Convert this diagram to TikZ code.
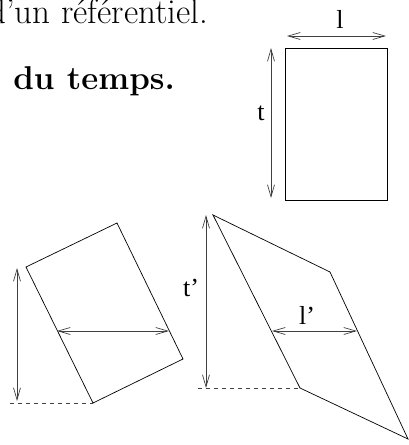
\documentclass[tikz,border=0pt]{standalone}
\usepackage{fontspec}
\newfontfamily\labelfont{Liberation Serif}[Ligatures=TeX]
\usetikzlibrary{arrows.meta}

\begin{document}
\begin{tikzpicture}[x=1pt,y=-1pt,>={Straight Barb[length=12pt,width=7pt]},
 line width=.7pt,
 dim/.style={<->,draw=black!75},
 guide/.style={dash pattern=on 4pt off 4pt,draw=black!75},
 lab/.style={font=\labelfont\fontsize{26}{30}\selectfont,inner sep=0pt,anchor=base},
 txt/.style={font=\fontsize{35}{40}\selectfont,inner sep=0pt,anchor=base west}]
\useasboundingbox (0,0) rectangle (409,445);
\node[txt] (head) at (-12,23) {d'un référentiel.};
\node[txt,font=\fontsize{33}{38}\selectfont\bfseries] (sub) at (13,89) {du temps.};
% frame at rest
\coordinate (r1) at (285,48); \coordinate (r2) at (387,200);
\draw (r1) rectangle (r2);
\coordinate (l1) at (287,36); \coordinate (l2) at (386,36);
\coordinate (t1) at (271,48); \coordinate (t2) at (271,198);
\draw[dim] (l1) -- (l2);
\draw[dim] (t1) -- (t2);
\node[lab] (l) at (340,28) {l};
\node[lab] (t) at (261,120) {t};
% rotated frame
\coordinate (a1) at (26,267); \coordinate (a2) at (117,223);
\coordinate (a3) at (183,359); \coordinate (a4) at (93,403);
\draw (a1) -- (a2) -- (a3) -- (a4) -- cycle;
\coordinate (h1) at (17,268); \coordinate (h2) at (17,401);
\coordinate (g1) at (10,403);
\coordinate (w1) at (57,331); \coordinate (w2) at (169,331);
\draw[dim] (h1) -- (h2);
\draw[guide] (g1) -- (a4);
\draw[dim] (w1) -- (w2);
% sheared frame
\coordinate (b1) at (213,215); \coordinate (b2) at (330,272);
\coordinate (b3) at (408,439); \coordinate (b4) at (300,388);
\draw (b1) -- (b2) -- (b3) -- (b4) -- cycle;
\coordinate (k1) at (206,215); \coordinate (k2) at (206,388);
\coordinate (g2) at (198,388);
\coordinate (m1) at (272,331); \coordinate (m2) at (357,331);
\draw[dim] (k1) -- (k2);
\draw[guide] (g2) -- (b4);
\draw[dim] (m1) -- (m2);
\node[lab] (tp) at (191,296) {t'};
\node[lab] (lp) at (307,324) {l'};
\end{tikzpicture}
\end{document}
